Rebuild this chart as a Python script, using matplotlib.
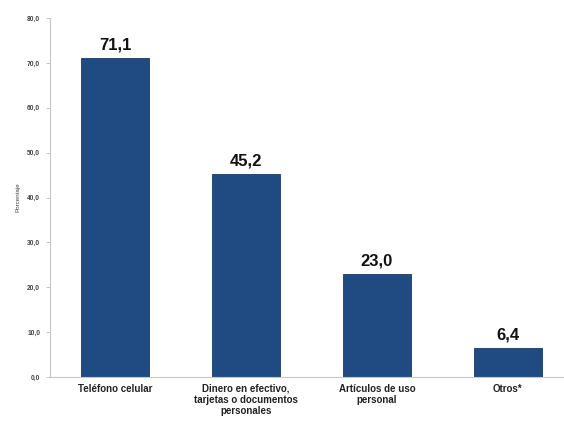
import matplotlib.pyplot as plt

# Data
categorias = ["Teléfono celular",
              "Dinero en efectivo,\ntarjetas o documentos\npersonales",
              "Artículos de uso\npersonal",
              "Otros*"]
porcentajes = [71.1, 45.2, 23.0, 6.4]
ticks_y = [0, 10, 20, 30, 40, 50, 60, 70, 80]

plt.rcParams['font.family'] = ['Liberation Sans', 'DejaVu Sans']

fig = plt.figure(figsize=(5.64, 4.22), dpi=100)
ax = fig.add_axes([50 / 564, 45 / 422, 523 / 564, 359 / 422])

x = range(len(categorias))
ax.bar(x, porcentajes, width=0.52, color="#1f4a82", edgecolor="#173a68", linewidth=0.6)

for xi, v in zip(x, porcentajes):
    ax.text(xi, v + 1.2, f"{v:.1f}".replace(".", ","), ha="center", va="bottom",
            fontsize=12, fontweight="bold", color="#111111")

ax.set_xlim(-0.5, 3.5)
ax.set_ylim(0, 80)
ax.set_yticks(ticks_y)
ax.set_yticklabels([f"{t:.1f}".replace(".", ",") for t in ticks_y],
                   fontsize=4.8, color="#444444", fontweight="bold")
ax.set_xticks(list(x))
ax.set_xticklabels(categorias, fontsize=7, fontweight="bold", color="#222222",
                   linespacing=1.15, va="top")
ax.tick_params(axis="x", length=0, pad=5)
ax.tick_params(axis="y", length=3, width=0.6, color="#bbbbbb", pad=4)
ax.set_ylabel("Porcentaje", fontsize=4.5, color="#444444", labelpad=5)

for s in ["top", "right"]:
    ax.spines[s].set_visible(False)
for s in ["left", "bottom"]:
    ax.spines[s].set_color("#c8c8c8")
    ax.spines[s].set_linewidth(0.8)

fig.savefig("out.png", dpi=100)
